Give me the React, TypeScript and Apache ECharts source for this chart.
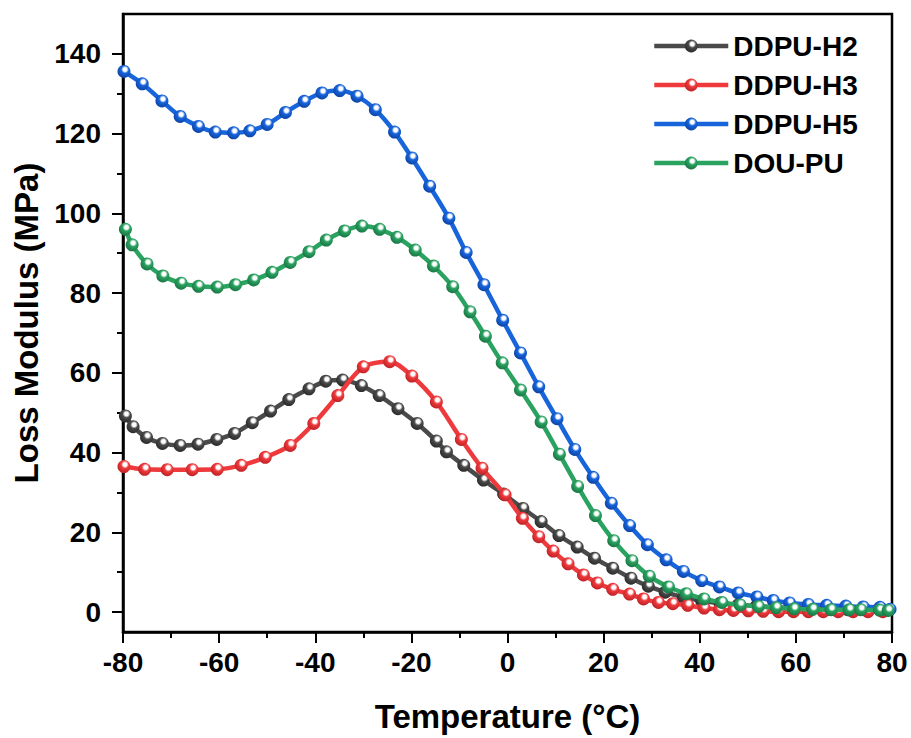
import React, { useEffect, useRef } from "react";
import * as echarts from "echarts";

const FONT = "'Liberation Sans', Arial, 'Noto Sans', sans-serif";

const seriesNames = ["DDPU-H2", "DDPU-H3", "DDPU-H5", "DOU-PU"];

const h2X = [-79.5,-77.9,-75.1,-71.8,-68.1,-64.4,-60.5,-56.8,-53.1,-49.3,-45.5,-41.3,-37.8,-34.3,-30.4,-26.7,-22.8,-18.8,-14.8,-12.7,-9.1,-5.0,-0.8,3.2,7.0,10.7,14.5,18.1,21.9,25.7,29.3,32.8,36.6,40.4,44.2,48.0,51.8,55.6,59.4,63.2,67.0,70.8,74.6,78.4];
const h2Y = [49.2,46.5,43.8,42.3,41.8,42.1,43.3,44.8,47.5,50.4,53.3,56.0,57.9,58.2,56.8,54.3,51.0,47.3,42.9,40.2,36.8,33.1,29.6,26.0,22.7,19.2,16.3,13.5,11.0,8.5,6.5,5.0,3.7,2.8,2.2,1.8,1.5,1.2,1.0,0.8,0.7,0.6,0.5,0.5];

const h3X = [-79.8,-75.5,-70.8,-65.6,-60.4,-55.4,-50.4,-45.2,-40.3,-35.3,-30.0,-24.5,-19.9,-14.8,-9.6,-5.3,-0.5,3.1,6.5,9.5,12.6,15.8,18.7,21.9,25.4,28.3,31.4,34.4,37.5,40.9,44.1,47.0,50.1,53.2,56.4,59.5,62.6,65.7,68.8,71.9,75.0,78.1];
const h3Y = [36.5,35.8,35.7,35.7,35.8,36.8,38.8,41.8,47.3,54.3,61.5,62.8,59.2,52.7,43.3,36.1,29.4,23.5,18.9,15.3,12.1,9.3,7.3,5.7,4.5,3.3,2.4,2.1,1.7,1.0,0.6,0.4,0.3,0.2,0.1,0.1,0.1,0.1,0.1,0.1,0.1,0.1];

const h5X = [-79.8,-76.0,-71.9,-68.1,-64.3,-60.8,-57.0,-53.6,-50.0,-46.2,-42.3,-38.6,-34.9,-31.3,-27.5,-23.5,-19.9,-16.2,-12.2,-8.6,-4.9,-1.0,2.7,6.5,10.3,14.0,17.8,21.6,25.4,29.1,33.0,36.6,40.4,44.1,48.0,51.9,55.3,58.7,62.6,66.4,70.4,74.0,77.5,79.6];
const h5Y = [135.6,132.5,128.2,124.3,121.8,120.4,120.2,120.7,122.3,125.3,128.1,130.2,130.8,129.4,126.0,120.4,113.9,106.8,98.8,90.2,82.1,73.2,65.0,56.5,48.5,40.8,33.8,27.3,21.7,16.9,13.1,10.2,7.9,6.3,4.8,3.8,2.9,2.3,1.9,1.7,1.5,1.3,1.2,0.7];

const douX = [-79.5,-78.1,-75.0,-71.7,-67.9,-64.3,-60.4,-56.6,-52.8,-49.0,-45.2,-41.3,-37.7,-33.9,-30.3,-26.6,-23.0,-19.2,-15.4,-11.4,-7.8,-4.6,-1.1,2.7,7.0,10.8,14.6,18.3,22.1,25.9,29.5,33.5,37.2,40.9,44.6,48.4,52.2,55.9,59.6,63.5,67.3,71.1,73.5,77.4,79.2];
const douY = [96.0,92.1,87.3,84.3,82.5,81.7,81.5,82.1,83.3,85.2,87.7,90.4,93.3,95.6,96.8,96.0,94.0,90.8,86.8,81.6,75.3,69.2,62.5,55.7,47.7,39.6,31.5,24.2,17.9,12.9,9.0,6.3,4.6,3.3,2.4,1.8,1.4,1.1,0.8,0.7,0.6,0.6,0.6,0.5,0.4];

const yMajorTicks = [0, 20, 40, 60, 80, 100, 120, 140];
const yMinorTicks = [10, 30, 50, 70, 90, 110, 130];

const lineColors = ["#4a4a4a", "#ee3a3d", "#1764db", "#2aa260"];
const darkColors = ["#262626", "#b81e22", "#0b3f9e", "#167040"];

function pair(xs: number[], ys: number[]) {
  return xs.map((x, i) => [x, ys[i]]);
}

function sphere(base: string, dark: string) {
  return new echarts.graphic.RadialGradient(0.58, 0.35, 0.7, [
    { offset: 0, color: "#ffffff" },
    { offset: 0.2, color: "#ffffff" },
    { offset: 0.42, color: base },
    { offset: 1, color: dark },
  ]);
}

export default function App() {
  const ref = useRef<HTMLDivElement>(null);
  useEffect(() => {
    if (!ref.current) return;
    const chart = echarts.init(ref.current, undefined, { renderer: "svg" });
    const datas = [pair(h2X, h2Y), pair(h3X, h3Y), pair(h5X, h5Y), pair(douX, douY)];
    const series = seriesNames.map((name, i) => ({
      name,
      type: "line",
      data: datas[i],
      smooth: 0.3,
      symbol: "circle",
      symbolSize: 13,
      showSymbol: true,
      lineStyle: { color: lineColors[i], width: 4.5 },
      itemStyle: { color: sphere(lineColors[i], darkColors[i]) },
      xAxisIndex: 0,
      yAxisIndex: 0,
      z: 2 + i,
    }));
    chart.setOption({
      animation: false,
      backgroundColor: "#ffffff",
      grid: {
        left: 123,
        right: 19,
        top: 14,
        bottom: 105,
        show: true,
        borderColor: "#000",
        borderWidth: 2.5,
        containLabel: false,
      },
      legend: {
        data: seriesNames,
        orient: "vertical",
        left: 652,
        top: 32,
        padding: 0,
        itemWidth: 74,
        itemHeight: 16,
        itemGap: 11,
        lineStyle: { width: 4.5 },
        textStyle: {
          fontFamily: FONT,
          fontWeight: "bold",
          fontSize: 28,
          color: "#000",
          lineHeight: 28,
        },
      },
      xAxis: {
        type: "value",
        min: -80,
        max: 80,
        interval: 20,
        name: "Temperature (°C)",
        nameLocation: "middle",
        nameGap: 68,
        nameTextStyle: { fontFamily: FONT, fontWeight: "bold", fontSize: 33, color: "#000" },
        axisLine: { show: true, onZero: false, lineStyle: { color: "#000", width: 2.5 } },
        axisTick: { show: true, length: 11, lineStyle: { color: "#000", width: 2 } },
        minorTick: { show: true, splitNumber: 2, length: 6, lineStyle: { color: "#000", width: 2 } },
        axisLabel: { fontFamily: FONT, fontWeight: "bold", fontSize: 28, color: "#000", margin: 16 },
        splitLine: { show: false },
      },
      yAxis: [
        {
          type: "value",
          min: -5,
          max: 150,
          position: "left",
          name: "Loss Modulus (MPa)",
          nameLocation: "middle",
          nameGap: 78,
          nameTextStyle: { fontFamily: FONT, fontWeight: "bold", fontSize: 33, color: "#000" },
          axisLine: { show: true, onZero: false, lineStyle: { color: "#000", width: 2.5 } },
          axisTick: { show: true, length: 11, customValues: yMajorTicks, lineStyle: { color: "#000", width: 2 } },
          axisLabel: {
            fontFamily: FONT,
            fontWeight: "bold",
            fontSize: 28,
            color: "#000",
            margin: 22,
            customValues: yMajorTicks,
          },
          splitLine: { show: false },
        },
        {
          type: "value",
          min: -5,
          max: 150,
          position: "left",
          axisLine: { show: false, onZero: false },
          axisTick: { show: true, length: 6, customValues: yMinorTicks, lineStyle: { color: "#000", width: 2 } },
          axisLabel: { show: false },
          splitLine: { show: false },
        },
      ],
      series,
    });
    return () => chart.dispose();
  }, []);
  return (
    <div
      ref={ref}
      style={{ position: "fixed", left: 0, top: 0, width: 911, height: 738, background: "#fff" }}
    />
  );
}
